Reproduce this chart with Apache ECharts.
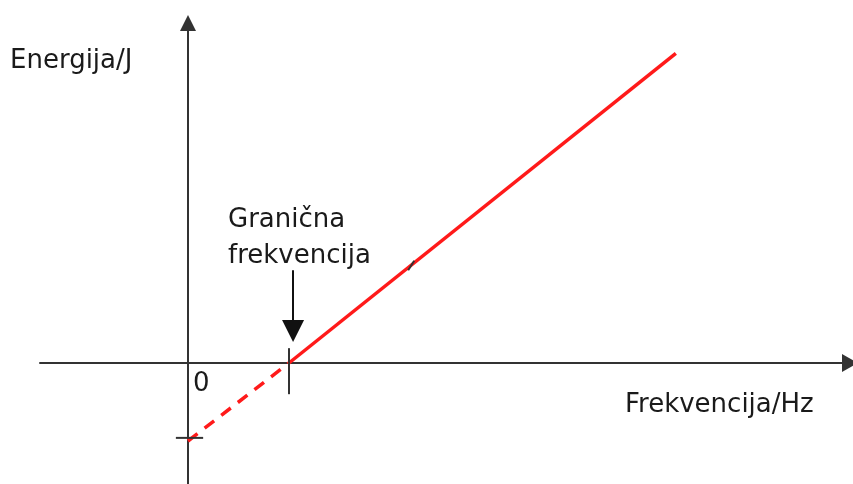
<!DOCTYPE html>
<html>
<head>
<meta charset="utf-8">
<script src="https://cdn.jsdelivr.net/npm/echarts@6/dist/echarts.min.js"></script>
<style>
html,body{margin:0;padding:0;background:#fff;}
#chart{width:853px;height:484px;}
</style>
</head>
<body>
<div id="chart"></div>
<script>
// Data (x in units of threshold frequency, y in units of work function)
const solidLine = [[1, 0], [4.83, 3.97]];
const dashedLine = [[0, -1], [1, 0]];
const thresholdTick = [[1, 0.19], [1, -0.40]];
const interceptTick = [[-0.12, -0.96], [0.15, -0.96]];
const pointerArrow = [[1.04, 1.19], [1.04, 0.41]];
const strayMark = [[2.18, 1.19], [2.24, 1.31]];
const labels = {
  yName: 'Energija/J',
  xName: 'Frekvencija/Hz',
  origin: '0',
  threshold: ['Granična', 'frekvencija']
};
const xRange = [-1.4653, 6.5545];
const yRange = [-1.5513, 4.359];

const axisColor = '#333333';
const textColor = '#1a1a1a';
const font = '"DejaVu Sans", sans-serif';
const fs = 26;

const chart = echarts.init(document.getElementById('chart'), null, {renderer: 'canvas'});
chart.setOption({
  animation: false,
  backgroundColor: '#ffffff',
  grid: {left: 40, right: 3, top: 23, bottom: 0, containLabel: false},
  xAxis: {
    type: 'value', min: xRange[0], max: xRange[1],
    axisLine: {show: true, onZero: true, symbol: ['none', 'triangle'], symbolSize: [18, 16],
      lineStyle: {color: axisColor, width: 2}},
    axisTick: {show: false}, axisLabel: {show: false}, splitLine: {show: false}
  },
  yAxis: {
    type: 'value', min: yRange[0], max: yRange[1],
    axisLine: {show: true, onZero: true, symbol: ['none', 'triangle'], symbolSize: [16, 16],
      lineStyle: {color: axisColor, width: 2}},
    axisTick: {show: false}, axisLabel: {show: false}, splitLine: {show: false}
  },
  series: [
    {type: 'line', data: solidLine, symbol: 'none', lineStyle: {color: '#ff1a1a', width: 3.5}},
    {type: 'line', data: dashedLine, symbol: 'none', lineStyle: {color: '#ff1a1a', width: 3.5, type: [12, 9]}},
    {type: 'line', data: thresholdTick, symbol: 'none', lineStyle: {color: axisColor, width: 2}},
    {type: 'line', data: interceptTick, symbol: 'none', lineStyle: {color: axisColor, width: 2}},
    {type: 'line', data: strayMark, symbol: 'none', lineStyle: {color: '#333', width: 2}},
    {type: 'lines', coordinateSystem: 'cartesian2d', symbol: ['none', 'triangle'], symbolSize: [18, 22],
      lineStyle: {color: '#111', width: 2, opacity: 1},
      data: [{coords: pointerArrow}]}
  ],
  graphic: [
    {type: 'text', left: 10, top: 48, style: {text: labels.yName, font: fs + 'px ' + font, fill: textColor}},
    {type: 'text', left: 625, top: 392, style: {text: labels.xName, font: fs + 'px ' + font, fill: textColor}},
    {type: 'text', left: 193, top: 371, style: {text: labels.origin, font: fs + 'px ' + font, fill: textColor}},
    {type: 'text', left: 228, top: 207, style: {text: labels.threshold[0], font: fs + 'px ' + font, fill: textColor}},
    {type: 'text', left: 228, top: 243, style: {text: labels.threshold[1], font: fs + 'px ' + font, fill: textColor}}
  ]
});
</script>
</body>
</html>
